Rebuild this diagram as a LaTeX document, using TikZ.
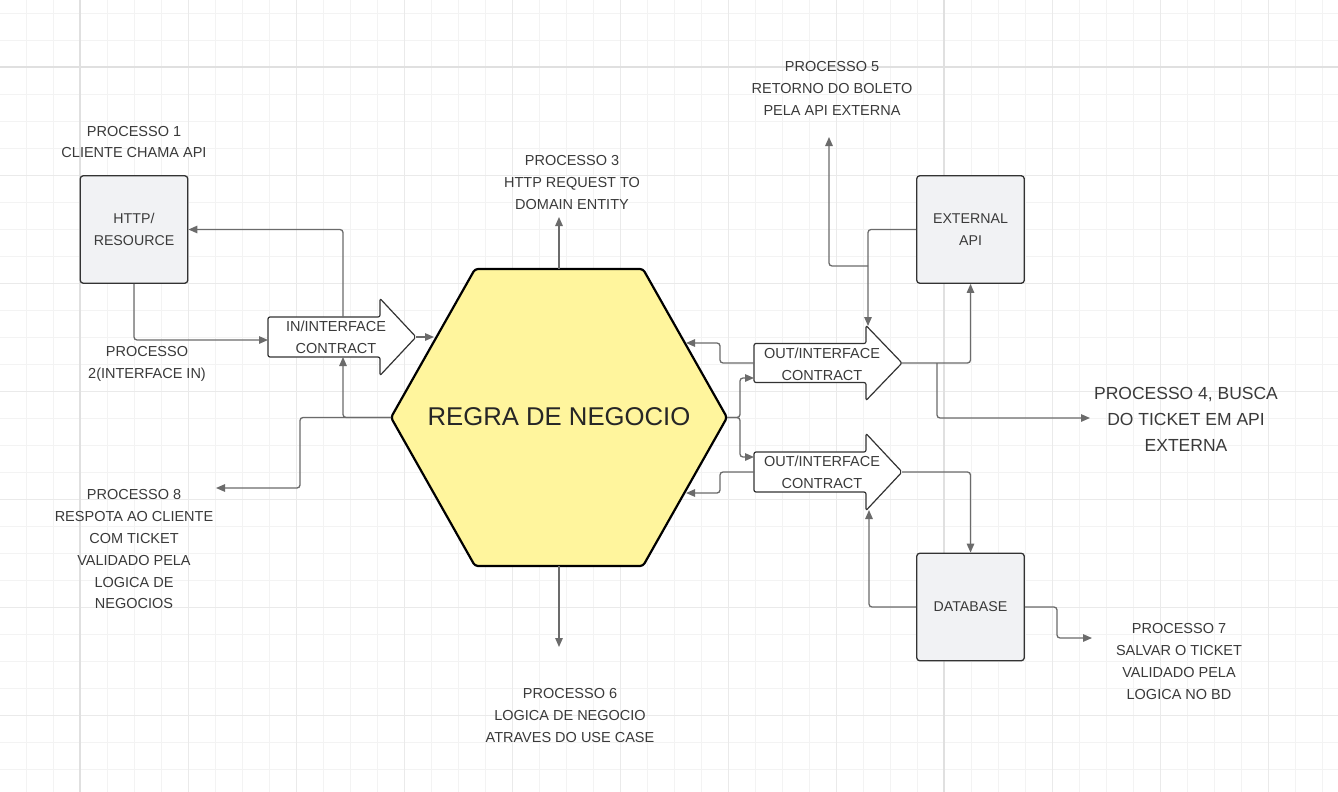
\documentclass[tikz,border=0pt]{standalone}
\usepackage{fontspec}
\setmainfont{Liberation Sans}
\usetikzlibrary{arrows.meta}
\definecolor{gminor}{HTML}{F3F3F3}
\definecolor{gmed}{HTML}{EAEAEA}
\definecolor{gmajor}{HTML}{E0E0E0}
\definecolor{linegray}{HTML}{6B6B6B}
\definecolor{txtgray}{HTML}{3A3A3A}
\definecolor{boxfill}{HTML}{F1F2F4}
\definecolor{boxborder}{HTML}{333333}
\definecolor{hexfill}{HTML}{FFF59D}
\begin{document}
\begin{tikzpicture}[x=1pt,y=-1pt,
  conn/.style={draw=linegray, line width=1.3pt, rounded corners=3pt, -{Triangle[length=9pt,width=7.5pt]}},
  lbl/.style={text=txtgray, font=\fontsize{14.5}{21.8}\selectfont, align=center, inner sep=0pt},
  bigl/.style={text=txtgray, font=\fontsize{17.5}{26}\selectfont, align=center, inner sep=0pt},
  sbox/.style={draw=boxborder, fill=boxfill, rounded corners=3pt, line width=1.3pt,
     minimum width=107.5pt, minimum height=107.5pt, text=txtgray,
     font=\fontsize{14.2}{22}\selectfont, align=center, inner sep=0pt},
  contract/.style={draw=boxborder, fill=white, line width=1.2pt, rounded corners=2pt},
  hexa/.style={draw=black, fill=hexfill, line width=2.2pt, rounded corners=3pt, line join=round}
]
\useasboundingbox (0,0) rectangle (1338,792);
\fill[white] (0,0) rectangle (1338,792);
% grid
\foreach \k in {0,...,48} {\draw[gminor, line width=0.9pt] ({26+27*\k},0) -- ({26+27*\k},792);}
\foreach \k in {0,...,28} {\draw[gminor, line width=0.9pt] (0,{13+27*\k}) -- (1338,{13+27*\k});}
\foreach \x in {80,188,...,1268} {\draw[gmed, line width=1pt] (\x,0) -- (\x,792);}
\foreach \y in {67,175,...,715} {\draw[gmed, line width=1pt] (0,\y) -- (1338,\y);}
\draw[gmajor, line width=2.2pt] (80,0) -- (80,792);
\draw[gmajor, line width=2.2pt] (944,0) -- (944,792);
\draw[gmajor, line width=2.2pt] (0,67) -- (1338,67);

% hexagon
\draw[hexa] (475,269) -- (643,269) -- (727,417.5) -- (643,566) -- (475,566) -- (391,417.5) -- cycle;
\node[text=black!85, font=\fontsize{25.7}{30}\selectfont, inner sep=0pt] (core) at (559,417) {REGRA DE NEGOCIO};
\coordinate (hT) at (559,269);
\coordinate (hB) at (559,566);
\coordinate (hL) at (391,417.5);
\coordinate (hR) at (727,417.5);

% boxes
\node[sbox] (http) at (134,229.5) {HTTP/\\RESOURCE};
\node[sbox] (ext) at (970.5,229.5) {EXTERNAL\\API};
\node[sbox] (db) at (970.5,607) {DATABASE};

% contract arrows
\draw[contract, shift={(268,337)}] (0,-20) -- (112,-20) -- (112,-38.5) -- (148,0) -- (112,38.5) -- (112,20) -- (0,20) -- cycle;
\node[lbl] (inC) at (336,337.5) {IN/INTERFACE\\CONTRACT};
\draw[contract, shift={(754,363)}] (0,-19.5) -- (112,-19.5) -- (112,-37.5) -- (148,0) -- (112,37.5) -- (112,19.5) -- (0,19.5) -- cycle;
\node[lbl] (out1) at (822,364.5) {OUT/INTERFACE\\CONTRACT};
\draw[contract, shift={(754,472)}] (0,-20) -- (112,-20) -- (112,-38.5) -- (148,0) -- (112,38.5) -- (112,20) -- (0,20) -- cycle;
\node[lbl] (out2) at (822,472.5) {OUT/INTERFACE\\CONTRACT};

% labels
\node[lbl] (p1) at (134,142) {PROCESSO 1\\CLIENTE CHAMA API};
\node[lbl] (p2) at (147,364) {PROCESSO\\2(INTERFACE IN)};
\node[lbl] (p3) at (572,182.5) {PROCESSO 3\\HTTP REQUEST TO\\DOMAIN ENTITY};
\node[lbl] (p5) at (832,88.5) {PROCESSO 5\\RETORNO DO BOLETO\\PELA API EXTERNA};
\node[bigl] (p4) at (1186,419) {PROCESSO 4, BUSCA\\DO TICKET EM API\\EXTERNA};
\node[lbl] (p6) at (570,715.5) {PROCESSO 6\\LOGICA DE NEGOCIO\\ATRAVES DO USE CASE};
\node[lbl] (p7) at (1179,661.5) {PROCESSO 7\\SALVAR O TICKET\\VALIDADO PELA\\LOGICA NO BD};
\node[lbl] (p8) at (134,549.5) {PROCESSO 8\\RESPOTA AO CLIENTE\\COM TICKET\\VALIDADO PELA\\LOGICA DE\\NEGOCIOS};

% connector points
\coordinate (inT) at (343,317);
\coordinate (inB) at (343,357);
\coordinate (inW) at (268,340);
\coordinate (inTip) at (416,337);
\coordinate (hIn) at (434,337);
\coordinate (j8) at (300,417.5);
\coordinate (p8a) at (216,488);
\coordinate (p3a) at (559,217);
\coordinate (p6a) at (559,647);
\coordinate (jR) at (740,417.5);
\coordinate (o1in) at (754,378);
\coordinate (o2in) at (754,457);
\coordinate (o1W) at (754,363);
\coordinate (k1) at (720,363);
\coordinate (h1) at (686,343);
\coordinate (o2W) at (754,472);
\coordinate (k2) at (720,472);
\coordinate (h2) at (686,493);
\coordinate (o1Tip) at (902,363);
\coordinate (k4) at (937,363);
\coordinate (p4a) at (1090,418);
\coordinate (o1Top) at (868,326);
\coordinate (k5) at (868,266);
\coordinate (p5a) at (829,137);
\coordinate (o2Tip) at (902,472);
\coordinate (o2Bot) at (869,510);
\coordinate (k7) at (1057,607);
\coordinate (p7a) at (1092,638);

% connectors
\draw[conn] (http.south) |- (inW);
\draw[conn] (inT) |- (http.east);
\draw[conn] (inTip) -- (hIn);
\draw[conn] (hL) -| (inB);
\draw[conn] (hL) -- (j8) |- (p8a);
\draw[conn] (hT) -- (p3a);
\draw[conn] (hB) -- (p6a);
\draw[conn] (hR) -- (jR) |- (o1in);
\draw[conn] (hR) -- (jR) |- (o2in);
\draw[conn] (o1W) -- (k1) |- (h1);
\draw[conn] (o2W) -- (k2) |- (h2);
\draw[conn] (o1Tip) -| (ext.south);
\draw[conn] (k4) |- (p4a);
\draw[conn] (ext.west) -| (o1Top);
\draw[conn] (k5) -| (p5a);
\draw[conn] (o2Tip) -| (db.north);
\draw[conn] (db.west) -| (o2Bot);
\draw[conn] (db.east) -- (k7) |- (p7a);
\end{tikzpicture}
\end{document}
